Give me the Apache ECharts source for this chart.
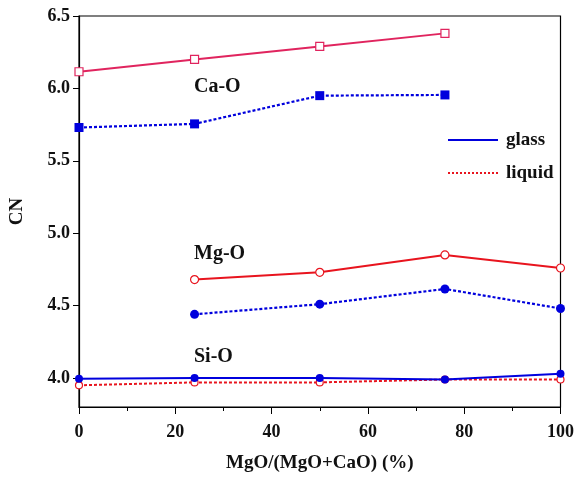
<!DOCTYPE html>
<html>
<head>
<meta charset="utf-8">
<script src="https://cdn.jsdelivr.net/npm/echarts@6/dist/echarts.min.js"></script>
<style>
  html, body { margin: 0; padding: 0; background: #fff; }
  #chart { width: 577px; height: 478px; }
</style>
</head>
<body>
<div id="chart"></div>
<script>
// MgO/(MgO+CaO) in %
const xCaO = [0, 24, 50, 76];
const xMgO = [24, 50, 76, 100];
const xSiO = [0, 24, 50, 76, 100];

const caoRed = [6.115, 6.20, 6.29, 6.38];
const caoBlue = [5.73, 5.755, 5.95, 5.955];
const mgoRed = [4.68, 4.73, 4.85, 4.76];
const mgoBlue = [4.44, 4.51, 4.615, 4.48];
const sioBlue = [3.995, 4.00, 4.00, 3.99, 4.03];
const sioRed = [3.95, 3.97, 3.97, 3.99, 3.99];

const yTicks = [4.0, 4.5, 5.0, 5.5, 6.0, 6.5];

const pair = (xs, ys) => xs.map((x, i) => [x, ys[i]]);

const serif = "Liberation Serif";
const blue = "#0000dd";
const crimson = "#e0245e";
const red = "#e8141e";
const ink = "#111";

const chart = echarts.init(document.getElementById("chart"));

const option = {
  animation: false,
  textStyle: { fontFamily: serif },
  grid: {
    left: 78, right: 14, top: 16, bottom: 64,
    show: true, borderColor: "#000", borderWidth: 1.2
  },
  legend: {
    data: ["glass", "liquid"],
    orient: "vertical",
    left: 442, top: 125,
    itemWidth: 50, itemHeight: 14, itemGap: 13,
    itemStyle: { color: "rgba(0,0,0,0)", borderWidth: 0 },
    textStyle: { fontFamily: serif, fontWeight: "bold", fontSize: 19, lineHeight: 20, color: ink, padding: [0, 0, 0, 3] }
  },
  xAxis: {
    type: "value",
    min: 0, max: 100, interval: 20,
    name: "MgO/(MgO+CaO) (%)",
    nameLocation: "middle",
    nameGap: 47,
    nameTextStyle: { fontFamily: serif, fontWeight: "bold", fontSize: 19, color: ink },
    axisLine: { lineStyle: { color: "#000", width: 1.2 } },
    axisTick: { length: 7, lineStyle: { color: "#000" } },
    minorTick: { show: true, splitNumber: 2, length: 4, lineStyle: { color: "#000" } },
    splitLine: { show: false },
    axisLabel: { fontFamily: serif, fontWeight: "bold", fontSize: 18, color: ink, margin: 16 }
  },
  yAxis: {
    type: "value",
    min: 3.8, max: 6.5,
    name: "CN",
    nameLocation: "middle",
    nameGap: 52,
    nameRotate: 90,
    nameTextStyle: { fontFamily: serif, fontWeight: "bold", fontSize: 19, color: ink },
    axisLine: { show: true, lineStyle: { color: "#000", width: 1.2 } },
    axisTick: { show: true, length: 6, customValues: yTicks, lineStyle: { color: "#000" } },
    splitLine: { show: false },
    axisLabel: {
      customValues: yTicks,
      fontFamily: serif, fontWeight: "bold", fontSize: 18, color: ink, margin: 9,
      formatter: v => v.toFixed(1)
    }
  },
  graphic: [
    { type: "text", left: 194, top: 77, style: { text: "Ca-O", font: "bold 20px 'Liberation Serif'", fill: ink } },
    { type: "text", left: 194, top: 244, style: { text: "Mg-O", font: "bold 20px 'Liberation Serif'", fill: ink } },
    { type: "text", left: 194, top: 347, style: { text: "Si-O", font: "bold 20px 'Liberation Serif'", fill: ink } }
  ],
  series: [
    {
      name: "glass", type: "line", data: [], symbol: "none",
      lineStyle: { color: blue, width: 1.5 }, itemStyle: { color: blue }
    },
    {
      name: "liquid", type: "line", data: [], symbol: "none",
      lineStyle: { color: red, width: 1.5, type: [2, 2] }, itemStyle: { color: red }
    },
    {
      name: "Ca-O red", type: "line", data: pair(xCaO, caoRed),
      symbol: "rect", symbolSize: 8,
      lineStyle: { color: crimson, width: 2 },
      itemStyle: { color: "#fff", borderColor: crimson, borderWidth: 1.2 }
    },
    {
      name: "Ca-O blue", type: "line", data: pair(xCaO, caoBlue),
      symbol: "rect", symbolSize: 9,
      lineStyle: { color: blue, width: 2.2, type: [3, 2] },
      itemStyle: { color: blue }
    },
    {
      name: "Mg-O red", type: "line", data: pair(xMgO, mgoRed),
      symbol: "circle", symbolSize: 8,
      lineStyle: { color: red, width: 2 },
      itemStyle: { color: "#fff", borderColor: red, borderWidth: 1.2 }
    },
    {
      name: "Mg-O blue", type: "line", data: pair(xMgO, mgoBlue),
      symbol: "circle", symbolSize: 9,
      lineStyle: { color: blue, width: 2.2, type: [3, 2] },
      itemStyle: { color: blue }
    },
    {
      name: "Si-O red", type: "line", data: pair(xSiO, sioRed),
      symbol: "circle", symbolSize: 7,
      lineStyle: { color: red, width: 2, type: [3, 2] },
      itemStyle: { color: "#fff", borderColor: red, borderWidth: 1.2 }
    },
    {
      name: "Si-O blue", type: "line", data: pair(xSiO, sioBlue),
      symbol: "circle", symbolSize: 8,
      lineStyle: { color: blue, width: 2 },
      itemStyle: { color: blue }
    }
  ]
};

chart.setOption(option);
</script>
</body>
</html>
